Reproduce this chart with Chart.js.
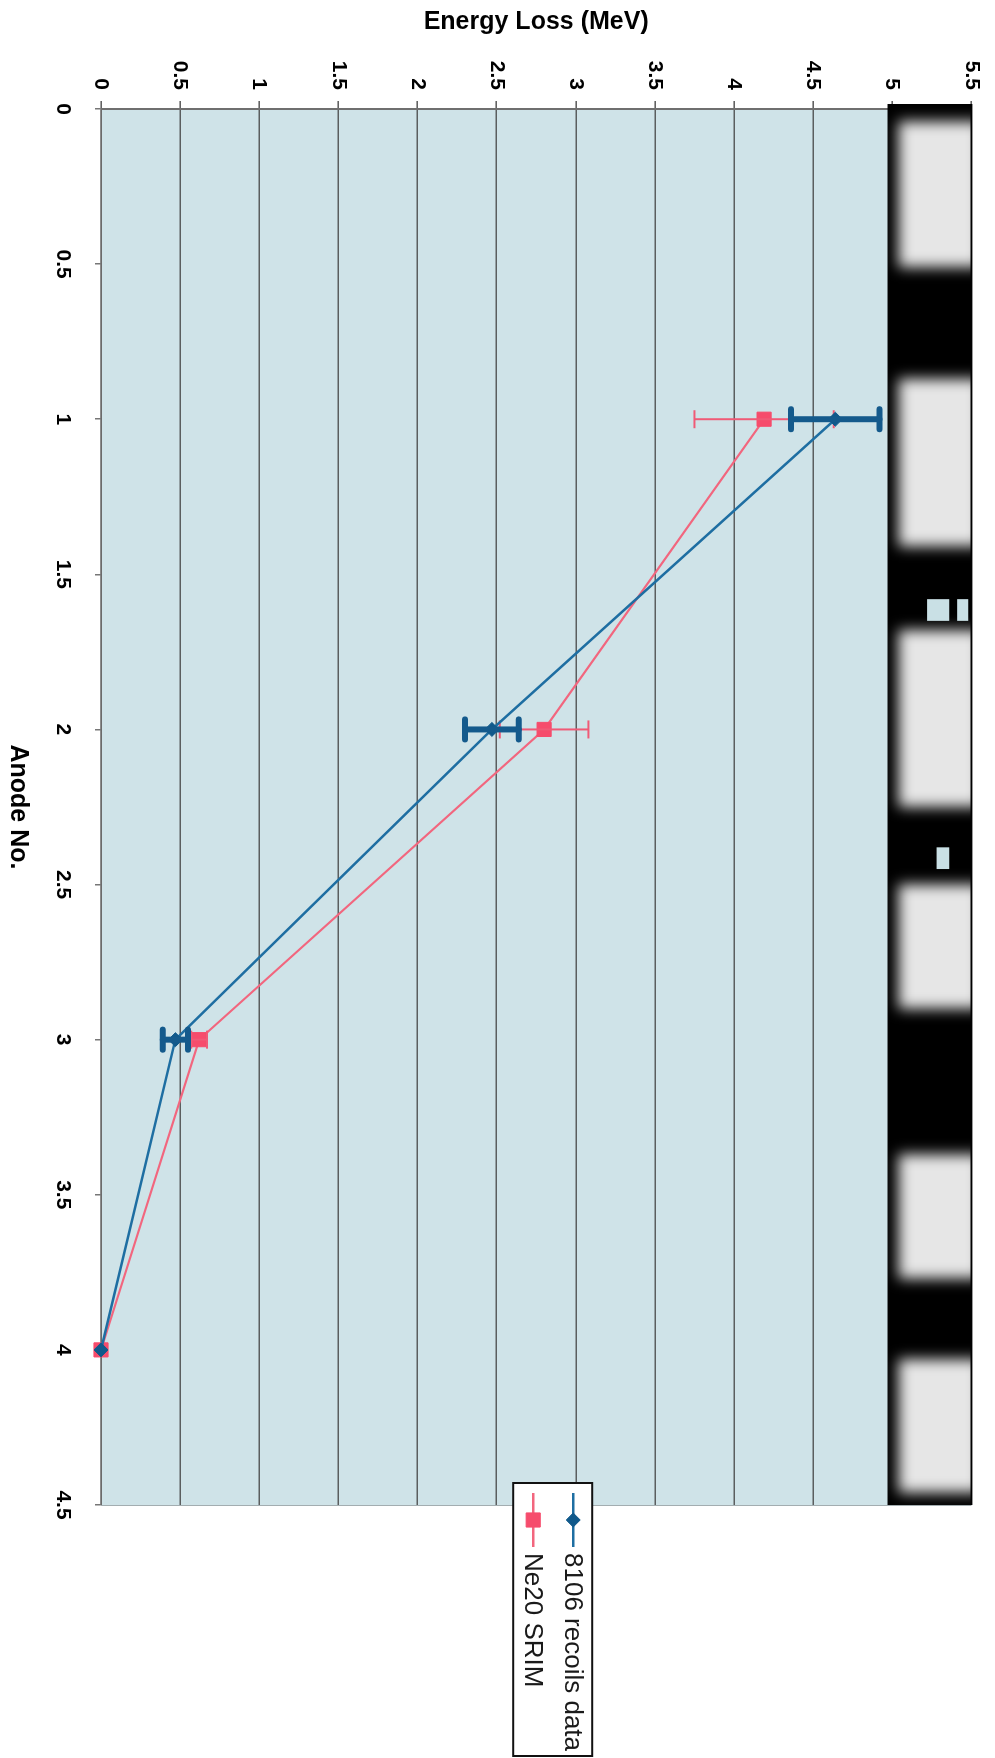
<!DOCTYPE html>
<html>
<head>
<meta charset="utf-8">
<title>Energy Loss vs Anode No.</title>
<script src="https://cdn.jsdelivr.net/npm/chart.js@4.4.1/dist/chart.umd.min.js"></script>
<style>
  html, body { margin: 0; padding: 0; background: #fff; overflow: hidden; }
  /* chart is drawn landscape and turned a quarter clockwise, like the scanned page */
  #wrap {
    position: absolute; left: 0; top: 0;
    width: 1758px; height: 995px;
    transform-origin: 0 0;
    transform: translate(995px, 0) rotate(90deg);
  }
</style>
</head>
<body>
<div id="wrap"><canvas id="chart" width="1758" height="995"></canvas></div>
<script>
/* ── Data ──────────────────────────────────────────────────────────────────── */
const anodes       = [1, 2, 3, 4];

const recoilsLabel = '8106 recoils data';
const recoilsVals  = [4.64, 2.47, 0.47, 0];
const recoilsErr   = [0.28, 0.17, 0.08, 0];

const srimLabel    = 'Ne20 SRIM';
const srimVals     = [4.19, 2.80, 0.62, 0];
const srimErr      = [0.44, 0.28, 0.05, 0];

const FONT = '"Liberation Sans", Arial, sans-serif';
const tickFont  = { family: FONT, size: 21, weight: 'bold' };
const titleFont = { family: FONT, size: 25, weight: 'bold' };
const plainTick = v => String(v);   // 1, 1.5, 2 … (no trailing .0)

// ── Plot background ───────────────────────────────────────────────────────────
const plotBackground = {
  id: 'plotBackground',
  beforeDraw(chart) {
    const { ctx, chartArea: a } = chart;
    ctx.save();
    ctx.fillStyle = '#cfe3e8';
    ctx.fillRect(a.left, a.top, a.right - a.left, a.bottom - a.top);
    ctx.restore();
  },
};

// ── Dark scanner band along the top of the energy range ───────────────────────
// bright patches given as anode ranges
const bandPatches = [[0.04, 0.51], [0.87, 1.41], [1.68, 2.25], [2.50, 2.90], [3.37, 3.77], [4.03, 4.46]];

const scanBand = {
  id: 'scanBand',
  beforeDatasetsDraw(chart) {
    const { ctx, chartArea: a, scales: { x, y } } = chart;
    const top = y.getPixelForValue(5.5);
    const bot = y.getPixelForValue(4.97);

    ctx.save();
    // faint far edge of the plot
    ctx.strokeStyle = '#a3adb0';
    ctx.lineWidth = 1;
    ctx.beginPath();
    ctx.moveTo(a.right + 0.5, a.top);
    ctx.lineTo(a.right + 0.5, a.bottom);
    ctx.stroke();

    ctx.fillStyle = '#000';
    ctx.fillRect(a.left - 5, top - 1, a.right - a.left + 5, bot - top + 1);

    ctx.beginPath();
    ctx.rect(a.left - 5, top + 1, a.right - a.left + 5, bot - top - 1);
    ctx.clip();
    ctx.filter = 'blur(7px)';
    ctx.fillStyle = 'rgba(255,255,255,0.9)';
    const vIn = y.getPixelForValue(5.04);
    bandPatches.forEach(([a0, a1]) => {
      const u0 = x.getPixelForValue(a0), u1 = x.getPixelForValue(a1);
      ctx.fillRect(u0, top - 10, u1 - u0, vIn - top + 10);
    });
    ctx.filter = 'none';

    // small light blocks in the band
    ctx.fillStyle = '#c9e0e5';
    [[1.58, 1.65, 5.22, 5.36], [1.58, 1.65, 5.41, 5.48], [2.38, 2.45, 5.28, 5.36]].forEach(([a0, a1, e0, e1]) => {
      const u0 = x.getPixelForValue(a0), u1 = x.getPixelForValue(a1);
      const v0 = y.getPixelForValue(e1), v1 = y.getPixelForValue(e0);
      ctx.fillRect(u0, v0, u1 - u0, v1 - v0);
    });
    ctx.restore();
  },
};

// ── Error bars, drawn right after each dataset ───────────────────────────────
const errorBars = {
  id: 'errorBars',
  afterDatasetDraw(chart, args) {
    const ds = chart.data.datasets[args.index];
    if (!ds.errors) return;
    const { ctx, scales: { x, y } } = chart;
    const st = ds.errStyle;
    const seg = (x0, y0, x1, y1) => { ctx.beginPath(); ctx.moveTo(x0, y0); ctx.lineTo(x1, y1); ctx.stroke(); };

    ctx.save();
    ctx.strokeStyle = st.color;
    ctx.lineCap = st.cap;
    ds.data.forEach((p, i) => {
      const e = ds.errors[i];
      if (!e) return;
      const u  = x.getPixelForValue(p.x);
      const v0 = y.getPixelForValue(p.y - e);
      const v1 = y.getPixelForValue(p.y + e);
      ctx.lineWidth = st.width;
      seg(u, v0, u, v1);
      ctx.lineWidth = st.capWidth;
      seg(u - st.capLen / 2, v0, u + st.capLen / 2, v0);
      seg(u - st.capLen / 2, v1, u + st.capLen / 2, v1);
    });
    ctx.restore();
  },
};

// ── Boxed legend sitting over the far edge of the plot ───────────────────────
const boxLegend = {
  id: 'boxLegend',
  afterDraw(chart) {
    const { ctx, chartArea: a } = chart;
    const left = a.right - 22;
    const top  = (a.top + a.bottom) / 2 - 56;
    const w = 273, h = 79;

    ctx.save();
    ctx.fillStyle = '#fff';
    ctx.fillRect(left, top, w, h);
    ctx.lineWidth = 2;
    ctx.strokeStyle = '#111';
    ctx.strokeRect(left, top, w, h);

    chart.data.datasets.forEach((ds, i) => {
      const v = top + 19 + i * 40;
      ctx.strokeStyle = ds.borderColor;
      ctx.lineWidth = 2.5;
      ctx.beginPath();
      ctx.moveTo(left + 10, v);
      ctx.lineTo(left + 64, v);
      ctx.stroke();

      ctx.fillStyle = ds.pointBackgroundColor;
      ctx.strokeStyle = ds.pointBorderColor;
      ctx.lineWidth = 1;
      Chart.helpers.drawPoint(ctx, {
        pointStyle: ds.pointStyle, radius: ds.pointRadius, rotation: 0, borderWidth: 1,
      }, left + 37, v);

      ctx.fillStyle = '#1a1a1a';
      ctx.font = '26px ' + FONT;
      ctx.textBaseline = 'middle';
      ctx.textAlign = 'left';
      ctx.fillText(ds.label, left + 70, v + 1);
    });
    ctx.restore();
  },
};

// ── Chart ────────────────────────────────────────────────────────────────────
new Chart(document.getElementById('chart'), {
  type: 'line',
  data: {
    datasets: [
      {
        label: recoilsLabel,
        data: anodes.map((a, i) => ({ x: a, y: recoilsVals[i] })),
        errors: recoilsErr,
        errStyle: { color: '#145a8c', width: 6, capLen: 20, capWidth: 6, cap: 'round' },
        borderColor: '#1e6ea2',
        borderWidth: 2.5,
        pointStyle: 'rectRot',
        pointRadius: 7,
        pointBackgroundColor: '#10598b',
        pointBorderColor: '#10598b',
        pointBorderWidth: 1,
        tension: 0,
        clip: false,
      },
      {
        label: srimLabel,
        data: anodes.map((a, i) => ({ x: a, y: srimVals[i] })),
        errors: srimErr,
        errStyle: { color: '#f05a76', width: 2, capLen: 18, capWidth: 2, cap: 'butt' },
        borderColor: '#f2667e',
        borderWidth: 2.2,
        pointStyle: 'rect',
        pointRadius: 10,
        pointBackgroundColor: '#f64c6c',
        pointBorderColor: '#f64c6c',
        pointBorderWidth: 1,
        tension: 0,
        clip: false,
      },
    ],
  },
  options: {
    responsive: false,
    animation: false,
    events: [],
    layout: { padding: { top: 15, right: 253, bottom: 0, left: 0 } },
    plugins: { legend: { display: false }, tooltip: { enabled: false } },
    scales: {
      x: {
        type: 'linear',
        min: 0, max: 4.5,
        afterFit: s => { s.height = 101; },
        ticks: { stepSize: 0.5, padding: 20, color: '#000', font: tickFont, maxRotation: 0, autoSkip: false, callback: plainTick },
        grid: { drawOnChartArea: false, tickLength: 6, color: '#777', lineWidth: 1.5 },
        border: { display: true, color: '#6b6b6b', width: 1.5 },
        title: { display: true, text: 'Anode No.', color: '#000', font: titleFont, padding: { top: 0, bottom: 3 } },
      },
      y: {
        min: 0, max: 5.5,
        afterFit: s => { s.width = 109; },
        ticks: { stepSize: 0.5, padding: 11, color: '#000', font: tickFont, callback: plainTick },
        grid: { color: 'rgba(70,70,70,0.85)', lineWidth: 1.6, tickLength: 8 },
        border: { display: true, color: '#6f6f6f', width: 2 },
        title: { display: true, text: 'Energy Loss (MeV)', color: '#000', font: titleFont, padding: { top: 7, bottom: 0 } },
      },
    },
  },
  plugins: [plotBackground, scanBand, errorBars, boxLegend],
});
</script>
</body>
</html>
